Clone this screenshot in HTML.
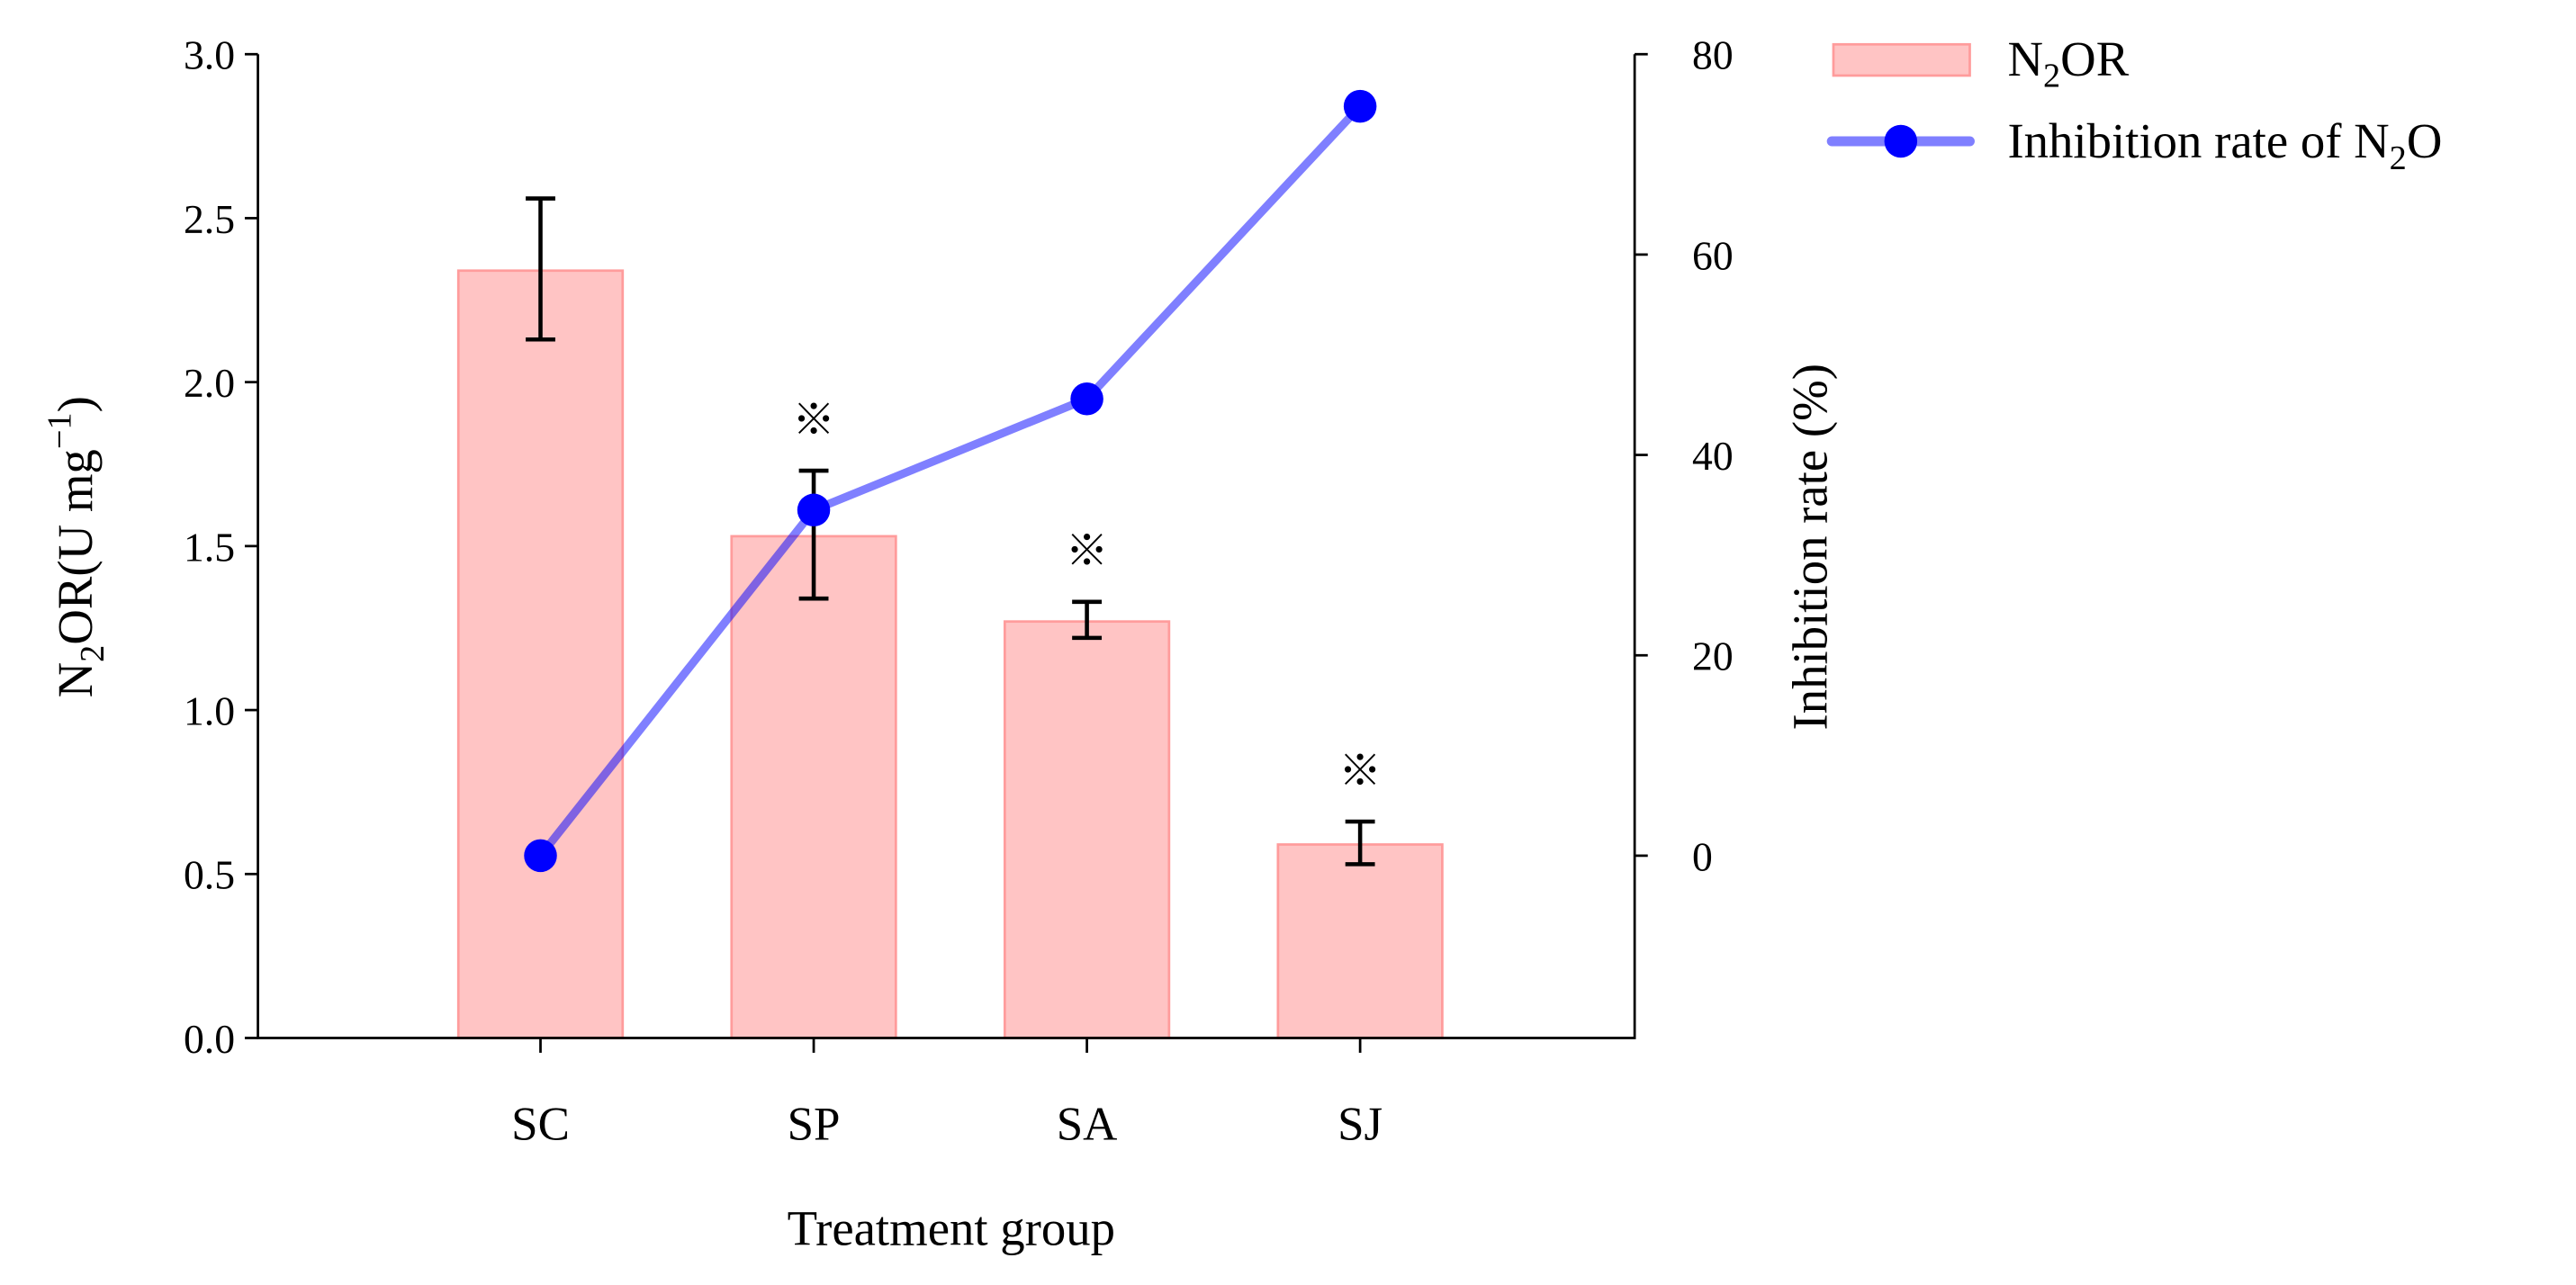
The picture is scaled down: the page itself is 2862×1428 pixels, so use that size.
<!DOCTYPE html>
<html><head><meta charset="utf-8"><style>
html,body{margin:0;padding:0;background:#fff;}
svg{display:block;width:2862px;height:1428px;font-family:"Liberation Serif",serif;}
</style></head><body>
<svg id="chart" viewBox="0 0 1568 782.4" preserveAspectRatio="none" xmlns="http://www.w3.org/2000/svg">
<g id="plot"></g>
</svg>
<script>
const categories = ["SC","SP","SA","SJ"];
const barValues = [2.34,1.53,1.27,0.59];
const errLow = [2.13,1.34,1.22,0.53];
const errHigh = [2.56,1.73,1.33,0.66];
const inhibition = [0,34.5,45.6,74.8];
const leftTicks = ["0.0","0.5","1.0","1.5","2.0","2.5","3.0"];
const rightTicks = ["0","20","40","60","80"];
const sig = [false,true,true,true];

const NS="http://www.w3.org/2000/svg";
const g=document.getElementById('plot');
function el(t,a,txt){const e=document.createElementNS(NS,t);for(const k in a)e.setAttribute(k,a[k]);if(txt!==undefined)e.textContent=txt;g.appendChild(e);return e;}
const xL=157,xR=995,y0=632,yTop=33;
const yL=v=>y0-(v/3)*(y0-yTop);
const yR=v=>521-v*(521-33)/80;
const xC=i=>329+i*166.3;
const bw=100;

categories.forEach((c,i)=>{
  let r=el('rect',{x:xC(i)-bw/2,y:yL(barValues[i]),width:bw,height:y0-yL(barValues[i]),fill:'#ffc4c4',stroke:'#ff9c9c','stroke-width':1.5});
  
  
});
categories.forEach((c,i)=>{
  const x=xC(i),a=yL(errLow[i]),b=yL(errHigh[i]);
  let p=el('path',{d:`M${x},${a}V${b}M${x-9},${a}H${x+9}M${x-9},${b}H${x+9}`,stroke:'#000','stroke-width':2.5,fill:'none'});
  
  
  if(sig[i]){
    let t=el('text',{x:x,y:b-22,'text-anchor':'middle','font-size':26,'font-family':'"Liberation Serif","Noto Sans CJK SC",serif'},'※');
    
    
  }
});
let ax=el('path',{d:`M${xL},${yTop}V${y0}H${xR}V${yTop}`,stroke:'#000','stroke-width':1.5,fill:'none'});


leftTicks.forEach(t=>{
  const y=yL(parseFloat(t));
  el('line',{x1:xL-8,x2:xL,y1:y,y2:y,stroke:'#000','stroke-width':1.5});
  let tx=el('text',{x:xL-14,y:y+9,'text-anchor':'end','font-size':25},t);
  
  
});
rightTicks.forEach(t=>{
  const y=yR(parseFloat(t));
  el('line',{x1:xR,x2:xR+8,y1:y,y2:y,stroke:'#000','stroke-width':1.5});
  let tx=el('text',{x:xR+35,y:y+9,'text-anchor':'start','font-size':25},t);
  
  
});
categories.forEach((c,i)=>{
  el('line',{x1:xC(i),x2:xC(i),y1:y0,y2:y0+9,stroke:'#000','stroke-width':1.5});
  let tx=el('text',{x:xC(i),y:694,'text-anchor':'middle','font-size':29},c);
  
  
});
let pts=inhibition.map((v,i)=>xC(i)+','+yR(v)).join(' ');
let pl=el('polyline',{points:pts,fill:'none',stroke:'#0000ff','stroke-opacity':0.5,'stroke-width':5,'stroke-linejoin':'round'});


inhibition.forEach((v,i)=>{
  let c=el('circle',{cx:xC(i),cy:yR(v),r:10,fill:'#0000ff'});
  
  
});
</script>
<script>
(function(){
const svg=document.getElementById('chart');
svg.insertAdjacentHTML('beforeend',`
<text x="579" y="758" text-anchor="middle" font-size="30">Treatment group</text>
<text transform="translate(56,333) rotate(-90)" text-anchor="middle" font-size="30">N<tspan font-size="21" dy="7">2</tspan><tspan dy="-7">OR(U mg</tspan><tspan font-size="21" dy="-13">−1</tspan><tspan dy="13">)</tspan></text>
<text transform="translate(1112,333) rotate(-90)" text-anchor="middle" font-size="30">Inhibition rate (%)</text>
<g>
<rect x="1116" y="27" width="83" height="19" fill="#ffc4c4" stroke="#ff9c9c" stroke-width="1.5"/>
<text x="1222" y="46" font-size="30">N<tspan font-size="21" dy="7">2</tspan><tspan dy="-7">OR</tspan></text>
<line x1="1115" y1="86" x2="1199" y2="86" stroke="#0000ff" stroke-opacity="0.5" stroke-width="6" stroke-linecap="round"/>
<circle cx="1157" cy="86" r="10" fill="#0000ff"/>
<text x="1222" y="96" font-size="30">Inhibition rate of N<tspan font-size="21" dy="7">2</tspan><tspan dy="-7">O</tspan></text>
</g>`);
})();
</script>
</body></html>
